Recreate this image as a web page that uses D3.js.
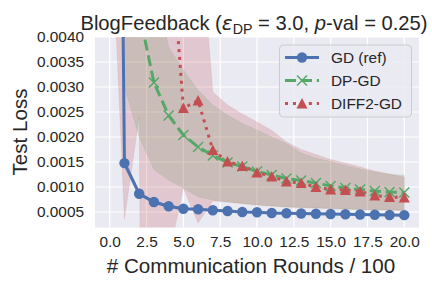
<!DOCTYPE html>
<html><head><meta charset="utf-8">
<script src="https://cdn.jsdelivr.net/npm/d3@7"></script>
<style>body{margin:0;background:#fff}text{font-family:"Liberation Sans",Arial,sans-serif;fill:#262626}</style>
</head><body><svg id="c" width="432" height="288"></svg>
<script>
const rounds = d3.range(0, 21);
const gdMean  = [0.030, 0.001478, 0.000865, 0.00070, 0.000614, 0.000566, 0.000554, 0.000534, 0.00052, 0.0005, 0.000494, 0.00048, 0.000474, 0.00047, 0.000465, 0.00046, 0.000455, 0.00045, 0.000445, 0.00044, 0.000437];
const gdLow   = [0.020, 0.00140, 0.00082, 0.00067, 0.00059, 0.000545, 0.000535, 0.000515, 0.000502, 0.000483, 0.000477, 0.000464, 0.000458, 0.000454, 0.00045, 0.000445, 0.00044, 0.000435, 0.00043, 0.000425, 0.000422];
const gdHigh  = [0.040, 0.00156, 0.00091, 0.00073, 0.000638, 0.000587, 0.000573, 0.000553, 0.000538, 0.000517, 0.000511, 0.000496, 0.00049, 0.000486, 0.00048, 0.000475, 0.00047, 0.000465, 0.00046, 0.000455, 0.000452];
const dpMean  = [0.030, 0.009, 0.0045, 0.00309, 0.00243, 0.00204, 0.0018, 0.00163, 0.00149, 0.00141, 0.00131, 0.00124, 0.00117, 0.00113, 0.00108, 0.00102, 0.00098, 0.00095, 0.00092, 0.0009, 0.00089];
const dpLow   = [0.0141, 0.0030, 0.0020, 0.00135, 0.00114, 0.00098, 0.0008, 0.00074, 0.0007, 0.00067, 0.00064, 0.00062, 0.0006, 0.00059, 0.00058, 0.00057, 0.00056, 0.00055, 0.00054, 0.00054, 0.00053];
const dpHigh  = [0.10, 0.05, 0.02, 0.0052, 0.0038, 0.00334, 0.00294, 0.00264, 0.00244, 0.00227, 0.00214, 0.002, 0.00187, 0.00168, 0.00158, 0.00151, 0.00143, 0.00136, 0.0013, 0.00125, 0.00124];
const dfMean  = [0.05, 0.03, 0.02, 0.015, 0.0065, 0.00258, 0.00273, 0.00174, 0.00151, 0.00142, 0.00129, 0.00121, 0.00111, 0.00108, 0.001, 0.00095, 0.00094, 0.00091, 0.00083, 0.0008, 0.00079];
const dfLow   = [0.007, 0.00036, 0.0024, -0.04, -0.0004, 0.00098, 0.00028, 0.00072, 0.0007, 0.00067, 0.00064, 0.00062, 0.0006, 0.00059, 0.00058, 0.00057, 0.00056, 0.00055, 0.00054, 0.00054, 0.00053];
const dfHigh  = [0.10, 0.10, 0.08, 0.07, 0.02, 0.01, 0.00657, 0.0029, 0.00264, 0.00246, 0.0023, 0.00213, 0.0019, 0.00175, 0.00165, 0.00155, 0.00148, 0.0014, 0.00132, 0.00126, 0.0012];
const xTicks = [0, 2.5, 5, 7.5, 10, 12.5, 15, 17.5, 20];
const yTicks = [0.0005, 0.0010, 0.0015, 0.0020, 0.0025, 0.0030, 0.0035, 0.0040];
const seriesNames = ["GD (ref)", "DP-GD", "DIFF2-GD"];
const colors = ["#4C72B0", "#55A868", "#C44E52"];

const svg = d3.select("#c");
const L = 95, R = 419, T = 37, B = 227.5;
const x = d3.scaleLinear().domain([-1, 21]).range([L, R]);
const y = d3.scaleLinear().domain([0.00019, 0.0040]).range([B, T]);

svg.append("rect").attr("width",432).attr("height",288).attr("fill","#fff");
svg.append("rect").attr("x",L).attr("y",T).attr("width",R-L).attr("height",B-T).attr("fill","#EAEAF2");
svg.append("defs").append("clipPath").attr("id","clip").append("rect").attr("x",L).attr("y",T).attr("width",R-L).attr("height",B-T);

// grid
const g = svg.append("g");
g.selectAll(".gx").data(xTicks).join("line").attr("x1",d=>x(d)).attr("x2",d=>x(d)).attr("y1",T).attr("y2",B).attr("stroke","#fff").attr("stroke-width",1.2);
g.selectAll(".gy").data(yTicks).join("line").attr("y1",d=>y(d)).attr("y2",d=>y(d)).attr("x1",L).attr("x2",R).attr("stroke","#fff").attr("stroke-width",1.2);

const plot = svg.append("g").attr("clip-path","url(#clip)");
const bands = [[gdLow,gdHigh],[dpLow,dpHigh],[dfLow,dfHigh]];
const bandAlpha = [0.2, 0.2, 0.22];
bands.forEach((b,i)=>{
  const area = d3.area().x((d,j)=>x(rounds[j])).y0((d,j)=>y(b[0][j])).y1((d,j)=>y(b[1][j]));
  plot.append("path").datum(rounds).attr("d",area).attr("fill",colors[i]).attr("fill-opacity",bandAlpha[i]).attr("stroke",colors[i]).attr("stroke-opacity",0.2).attr("stroke-width",0.5);
});
const means = [gdMean, dpMean, dfMean];
const dashes = [null, "11.1,4.8", "3,4.95"];
const line = d3.line().x((d,j)=>x(rounds[j])).y(d=>y(d));
means.forEach((m,i)=>{
  plot.append("path").datum(m).attr("d",line).attr("fill","none").attr("stroke",colors[i]).attr("stroke-width",3).attr("stroke-dasharray",dashes[i]);
});
function marker(sel, i, cx, cy){
  if(i===0) sel.append("circle").attr("cx",cx).attr("cy",cy).attr("r",5.2).attr("fill",colors[0]);
  else if(i===1) sel.append("path").attr("d",`M${cx-5},${cy-5}L${cx+5},${cy+5}M${cx-5},${cy+5}L${cx+5},${cy-5}`).attr("stroke",colors[1]).attr("stroke-width",1.5).attr("fill","none");
  else sel.append("path").attr("d",`M${cx},${cy-5.5}L${cx+5.5},${cy+5}L${cx-5.5},${cy+5}Z`).attr("fill",colors[2]);
}
means.forEach((m,i)=>{
  m.forEach((v,j)=>{ marker(plot, i, x(rounds[j]), y(v)); });
});

// axes
const fmtX = d3.format(".1f"), fmtY = d3.format(".4f");
const ax = svg.append("g").attr("transform",`translate(0,${B})`).call(d3.axisBottom(x).tickValues(xTicks).tickFormat(fmtX).tickSize(0).tickPadding(9));
const ay = svg.append("g").attr("transform",`translate(${L},0)`).call(d3.axisLeft(y).tickValues(yTicks).tickFormat(fmtY).tickSize(0).tickPadding(11));
[ax,ay].forEach(a=>{a.select(".domain").remove(); a.selectAll("text").attr("font-size","15.4px").attr("fill","#262626").attr("font-family",'"Liberation Sans",Arial,sans-serif');});

svg.append("text").attr("x",(L+R)/2 - 6).attr("y",273).attr("text-anchor","middle").attr("font-size","20.6px").text("# Communication Rounds / 100");
svg.append("text").attr("transform","translate(27,132) rotate(-90)").attr("text-anchor","middle").attr("font-size","20.6px").text("Test Loss");

const title = svg.append("text").attr("x",254).attr("y",30).attr("text-anchor","middle").attr("font-size","20.2px");
title.append("tspan").text("BlogFeedback (");
title.append("tspan").attr("font-style","italic").attr("font-family","DejaVu Sans").text("ε");
title.append("tspan").attr("font-size","14.2px").attr("dy",4).text("DP");
title.append("tspan").attr("dy",-4).text(" = 3.0, ");
title.append("tspan").attr("font-style","italic").text("p");
title.append("tspan").text("-val = 0.25)");

// legend
const lg = svg.append("g");
lg.append("rect").attr("x",279.5).attr("y",45).attr("width",132).attr("height",72).attr("rx",4).attr("fill","#EAEAF2").attr("fill-opacity",0.8).attr("stroke","#cccccc").attr("stroke-width",1);
seriesNames.forEach((n,i)=>{
  const cy = 57.5 + i*23;
  lg.append("line").attr("x1",285).attr("x2",319).attr("y1",cy).attr("y2",cy).attr("stroke",colors[i]).attr("stroke-width",3).attr("stroke-dasharray",dashes[i]);
  marker(lg, i, 302, cy);
  lg.append("text").attr("x",331).attr("y",cy).attr("dy","0.35em").attr("font-size","15.4px").text(n);
});
</script></body></html>
